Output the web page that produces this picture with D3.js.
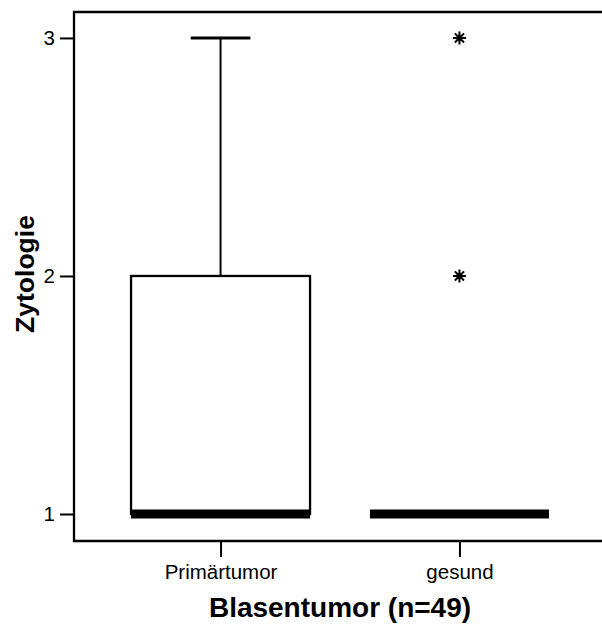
<!DOCTYPE html>
<html><head><meta charset="utf-8">
<script src="https://cdn.jsdelivr.net/npm/d3@7"></script>
<style>body{margin:0;background:#fff}svg{display:block}text{font-family:Arial,"Liberation Sans",sans-serif;fill:#000}</style>
</head><body><svg id="c" width="602" height="624"></svg>
<script>
const categories = ["Primärtumor", "gesund"];
const whiskerLow = [1, 1];
const q1 = [1, 1];
const median = [1, 1];
const q3 = [2, 1];
const whiskerHigh = [3, 1];
const outliers = [[], [2, 3]];
const yTicks = [1, 2, 3];
const xTitle = "Blasentumor (n=49)";
const yTitle = "Zytologie";

const svg = d3.select("#c");
const L = 74, R = 604, T = 12, B = 541;
const x = d3.scalePoint().domain(categories).range([76, 604]).padding(0.605);
const y = d3.scaleLinear().domain([0.8866, 3.109]).range([B, T]);
const bw = 179;

svg.append("path").attr("d", `M${602},${T}H${L}V${B}H${602}`).attr("fill","none").attr("stroke","#000").attr("stroke-width",2.3);

const yAxis = svg.append("g").attr("transform",`translate(${L},0)`)
  .call(d3.axisLeft(y).tickValues(yTicks).tickFormat(d3.format("d")).tickSize(14).tickPadding(5));
yAxis.select(".domain").remove();
yAxis.selectAll("line").attr("stroke-width",2);
yAxis.selectAll("text").attr("font-size",20.5).attr("font-family","Arial,'Liberation Sans',sans-serif");

const xAxis = svg.append("g").attr("transform",`translate(0,${B})`)
  .call(d3.axisBottom(x).tickSize(16).tickPadding(7));
xAxis.select(".domain").remove();
xAxis.selectAll("line").attr("stroke-width",2);
xAxis.selectAll("text").attr("font-size",20.5).attr("font-family","Arial,'Liberation Sans',sans-serif");

const g = svg.append("g");
categories.forEach((c,i)=>{
  const cx = x(c);
  if (whiskerHigh[i] > q3[i]) {
    g.append("line").attr("x1",cx).attr("x2",cx).attr("y1",y(q3[i])).attr("y2",y(whiskerHigh[i])).attr("stroke","#000").attr("stroke-width",2);
    g.append("line").attr("x1",cx-bw/6).attr("x2",cx+bw/6).attr("y1",y(whiskerHigh[i])).attr("y2",y(whiskerHigh[i])).attr("stroke","#000").attr("stroke-width",3);
  }
  if (whiskerLow[i] < q1[i]) {
    g.append("line").attr("x1",cx).attr("x2",cx).attr("y1",y(q1[i])).attr("y2",y(whiskerLow[i])).attr("stroke","#000").attr("stroke-width",2);
  }
  if (q3[i] > q1[i]) {
    g.append("rect").attr("x",cx-bw/2).attr("width",bw).attr("y",y(q3[i])).attr("height",y(q1[i])-y(q3[i]))
      .attr("fill","none").attr("stroke","#000").attr("stroke-width",2.3);
  }
  g.append("line").attr("x1",cx-bw/2).attr("x2",cx+bw/2).attr("y1",y(median[i])).attr("y2",y(median[i]))
    .attr("stroke","#000").attr("stroke-width",9);
  outliers[i].forEach(v=>{
    const s = g.append("g").attr("transform",`translate(${cx},${y(v)})`);
    const r = 6.5;
    for (let k=0;k<4;k++){
      const a = k*Math.PI/4;
      s.append("line").attr("x1",-r*Math.cos(a)).attr("y1",-r*Math.sin(a)).attr("x2",r*Math.cos(a)).attr("y2",r*Math.sin(a))
        .attr("stroke","#000").attr("stroke-width",2);
    }
    s.append("circle").attr("r",3).attr("fill","#000");
  });
});

svg.append("text").attr("x",340).attr("y",617).attr("text-anchor","middle").attr("font-size",28).attr("font-weight","bold").text(xTitle);
svg.append("text").attr("transform","translate(34,274) rotate(-90)").attr("text-anchor","middle").attr("font-size",26.5).attr("font-weight","bold").text(yTitle);
</script></body></html>
